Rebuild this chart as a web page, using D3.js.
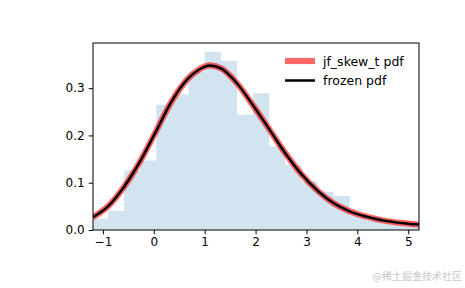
<!DOCTYPE html>
<html>
<head>
<meta charset="utf-8">
<script src="https://cdn.jsdelivr.net/npm/d3@7"></script>
<style>
  body { margin: 0; background: #fff; }
  text { font-family: "DejaVu Sans", sans-serif; }
</style>
</head>
<body>
<div id="chart"></div>
<script>
// histogram (density) - left edges of bins, width is constant
var binEdges = [-1.217, -0.900, -0.583, -0.267, 0.050, 0.367, 0.684, 1.000, 1.317, 1.634,
                1.951, 2.268, 2.585, 2.901, 3.218, 3.535, 3.852, 4.169, 4.486, 4.803, 5.119, 5.436];
var binHeights = [0.024, 0.040, 0.126, 0.147, 0.265, 0.287, 0.334, 0.377, 0.358, 0.244,
                  0.289, 0.177, 0.138, 0.103, 0.081, 0.072, 0.029, 0.019, 0.013, 0.009, 0.006];

// pdf curve
var curveX   = [-1.195, -0.90, -0.58, -0.27, 0.04, 0.35, 0.68, 0.90, 1.10, 1.32, 1.63,
                1.96, 2.19, 2.58, 2.91, 3.23, 3.53, 3.84, 4.15, 4.51, 4.85, 5.212];
var curvePdf = [0.027, 0.050, 0.092, 0.145, 0.208, 0.272, 0.321, 0.340, 0.348, 0.342, 0.311,
                0.262, 0.226, 0.163, 0.117, 0.082, 0.057, 0.040, 0.029, 0.020, 0.015, 0.0115];

var xTicks = [-1, 0, 1, 2, 3, 4, 5];
var yTicks = [0.0, 0.1, 0.2, 0.3];
var legendLabels = ["jf_skew_t pdf", "frozen pdf"];

var W = 465, H = 288;
var margin = {left: 93, top: 43, right: 46, bottom: 58};
var iw = W - margin.left - margin.right,
    ih = H - margin.top - margin.bottom;

var svg = d3.select("#chart").append("svg")
    .attr("width", W)
    .attr("height", H);

var x = d3.scaleLinear().domain([-1.195, 5.212]).range([0, iw]);
var y = d3.scaleLinear().domain([0, 0.3955]).range([ih, 0]);

var g = svg.append("g")
    .attr("transform", "translate(" + margin.left + "," + margin.top + ")");

svg.append("defs").append("clipPath")
    .attr("id", "plotclip")
    .append("rect")
    .attr("width", iw)
    .attr("height", ih);

var plot = g.append("g").attr("clip-path", "url(#plotclip)");

// stepfilled histogram as one path
var steps = binEdges.map(function(e, i) {
  return [e, i < binHeights.length ? binHeights[i] : binHeights[binHeights.length - 1]];
});
var area = d3.area()
    .x(function(d) { return x(d[0]); })
    .y0(y(0))
    .y1(function(d) { return y(d[1]); })
    .curve(d3.curveStepAfter);

plot.append("path")
    .attr("d", area(steps))
    .attr("fill", "#1f77b4")
    .attr("fill-opacity", 0.2);

var pts = curveX.map(function(v, i) { return [v, curvePdf[i]]; });
var line = d3.line()
    .x(function(d) { return x(d[0]); })
    .y(function(d) { return y(d[1]); })
    .curve(d3.curveMonotoneX);

plot.append("path")
    .attr("d", line(pts))
    .attr("fill", "none")
    .attr("stroke", "red")
    .attr("stroke-opacity", 0.6)
    .attr("stroke-width", 6.2);

plot.append("path")
    .attr("d", line(pts))
    .attr("fill", "none")
    .attr("stroke", "black")
    .attr("stroke-width", 2.5);

// axes
var xAxis = g.append("g")
    .attr("transform", "translate(0," + ih + ")")
    .call(d3.axisBottom(x).tickValues(xTicks).tickSizeOuter(0).tickSize(4.3).tickPadding(3)
        .tickFormat(function(d) { return d < 0 ? "\u2212" + Math.abs(d) : d; }));
var yAxis = g.append("g")
    .call(d3.axisLeft(y).tickValues(yTicks).tickSizeOuter(0).tickSize(4.3).tickPadding(4)
        .tickFormat(d3.format(".1f")));

[xAxis, yAxis].forEach(function(a) {
  a.select(".domain").remove();
  a.selectAll("line").attr("stroke", "black").attr("stroke-width", 1);
  a.selectAll("text").attr("fill", "black").style("font-size", "12px")
      .style("font-family", "'DejaVu Sans', sans-serif");
});

g.append("rect")
    .attr("x", 0).attr("y", 0)
    .attr("width", iw).attr("height", ih)
    .attr("fill", "none")
    .attr("stroke", "black")
    .attr("stroke-width", 1);

// legend
var legend = svg.append("g");
var legStyles = [
  {color: "red", opacity: 0.6, width: 6.2},
  {color: "black", opacity: 1, width: 2.5}
];
legendLabels.forEach(function(lbl, i) {
  var ly = 61 + i * 19.5;
  legend.append("line")
      .attr("x1", 285).attr("x2", 315)
      .attr("y1", ly).attr("y2", ly)
      .attr("stroke", legStyles[i].color)
      .attr("stroke-opacity", legStyles[i].opacity)
      .attr("stroke-width", legStyles[i].width);
  legend.append("text")
      .attr("x", 323)
      .attr("y", ly + 4.5)
      .style("font-size", "12.5px")
      .attr("fill", "black")
      .text(lbl);
});

// watermark
svg.append("text")
    .attr("x", 462)
    .attr("y", 280)
    .attr("text-anchor", "end")
    .style("font-family", "'Noto Sans CJK SC', sans-serif")
    .style("font-size", "10px")
    .attr("fill", "#c8c8c8")
    .text("@稀土掘金技术社区");
</script>
</body>
</html>
